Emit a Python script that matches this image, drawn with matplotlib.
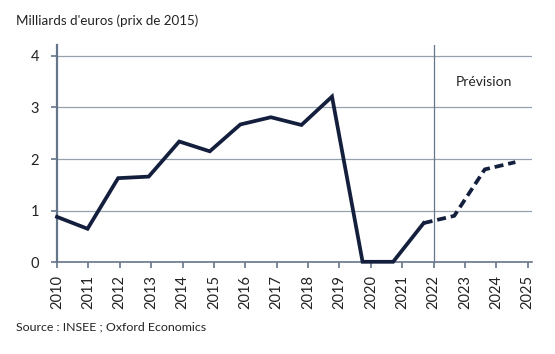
import matplotlib
matplotlib.use("Agg")
import matplotlib.pyplot as plt

plt.rcParams['font.family'] = ['Lato', 'DejaVu Sans']

years = list(range(2010, 2026))
valeurs = [0.88, 0.65, 1.63, 1.66, 2.34, 2.15, 2.67, 2.81, 2.66, 3.21,
           0.01, 0.01, 0.76, 0.90, 1.80, 1.94]
n_hist = 13          # 2010..2022 observed, then forecast
annee_prevision = 2022

navy = '#141f3d'
spine_col = '#66768a'
grid_col = '#95a1ae'

fig = plt.figure(figsize=(5.55, 3.54), dpi=100)
ax = fig.add_axes([0.1027, 0.259, 0.9583 - 0.1027, 0.873 - 0.259])

ax.set_xlim(2010, 2025.13)
ax.set_ylim(0, 4.21)
ax.set_xticks(years)
ax.set_xticklabels([str(y) for y in years], rotation=90, fontsize=10.5, color='#222222')
ax.set_yticks([0, 1, 2, 3, 4])
ax.set_yticklabels(['0', '1', '2', '3', '4'], fontsize=10.5, color='#222222')
ax.tick_params(axis='both', length=4, width=1.2, color=spine_col)
ax.tick_params(axis='y', pad=9)
ax.tick_params(axis='x', pad=5)
ax.yaxis.grid(True, color=grid_col, lw=0.9)
ax.set_axisbelow(True)
for s in ['top', 'right']:
    ax.spines[s].set_visible(False)
ax.spines['left'].set_color(spine_col)
ax.spines['left'].set_linewidth(1.6)
ax.spines['bottom'].set_color(spine_col)
ax.spines['bottom'].set_linewidth(1.2)
ax.axvline(annee_prevision, color=spine_col, lw=0.9)
ax.text(2023.6, 3.49, 'Prévision', ha='center', va='center', fontsize=10, color='#222222')

# line series on its own category scale
lx = ax.twiny()
lx.set_xlim(0, 15.54)
lx.axis('off')
idx = list(range(len(valeurs)))
lx.plot(idx[:n_hist], valeurs[:n_hist], color=navy, lw=2.7,
        solid_joinstyle='miter', clip_on=False)
lx.plot(idx[n_hist - 1:], valeurs[n_hist - 1:], color=navy, lw=2.7,
        dashes=(2.4, 1.3), clip_on=False)
lx.set_ylim(0, 4.21)

fig.text(16 / 555, 1 - 21 / 354, "Milliards d'euros (prix de 2015)", fontsize=9.6,
         ha='left', va='center', color='#222222')
fig.text(16 / 555, 1 - 327 / 354, 'Source : INSEE ; Oxford Economics', fontsize=8.9,
         ha='left', va='center', color='#222222')

fig.savefig('out.png', dpi=100)
